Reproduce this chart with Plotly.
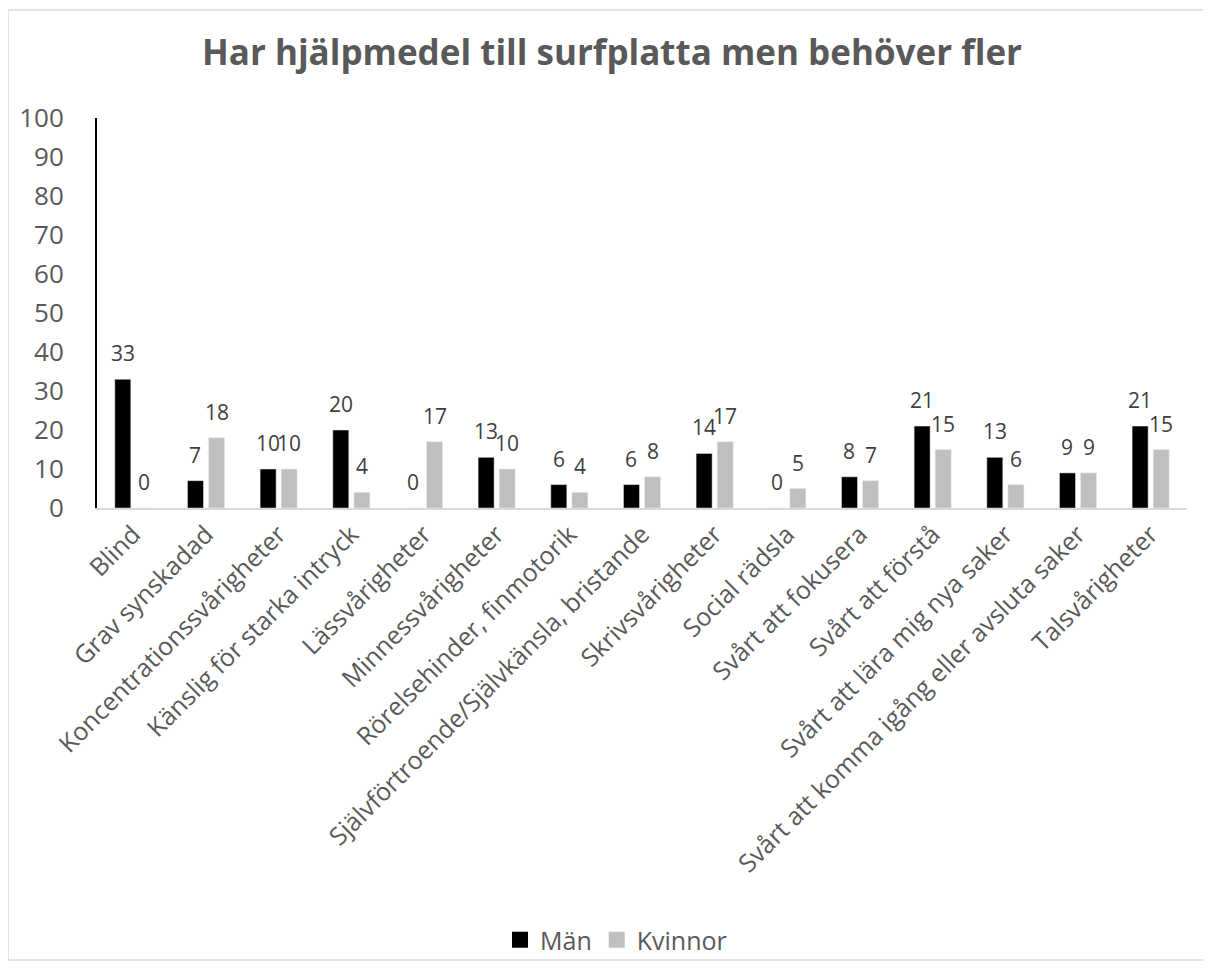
import plotly.graph_objects as go

categories = ["Blind", "Grav synskadad", "Koncentrationssvårigheter", "Känslig för starka intryck",
              "Lässvårigheter", "Minnessvårigheter", "Rörelsehinder, finmotorik",
              "Självförtroende/Självkänsla, bristande", "Skrivsvårigheter", "Social rädsla",
              "Svårt att fokusera", "Svårt att förstå", "Svårt att lära mig nya saker",
              "Svårt att komma igång eller avsluta saker", "Talsvårigheter"]
man = [33, 7, 10, 20, 0, 13, 6, 6, 14, 0, 8, 21, 13, 9, 21]
kvinnor = [0, 18, 10, 4, 17, 10, 4, 8, 17, 5, 7, 15, 6, 9, 15]
yticks = [0, 10, 20, 30, 40, 50, 60, 70, 80, 90, 100]
series = [("Män", man, "#000000"), ("Kvinnor", kvinnor, "#BFBFBF")]

OFF = 8  # page body margin
W, H = 1211 - OFF, 974 - OFF
L, T = 97 - OFF, 118 - OFF
R = W - (1187 - OFF)
B = H - (508 - OFF)
pw, ph = W - L - R, H - T - B
BARGAP, GROUPGAP = 0.42, 0.24


def px_x(x):
    return (x - OFF - L) / pw


def px_y(y):
    return 1 - (y - OFF - T) / ph


cw = pw / len(categories)
slot = cw * (1 - BARGAP) / len(series)

fig = go.Figure()
for k, (name, vals, color) in enumerate(series):
    fig.add_trace(go.Bar(x=categories, y=vals, name=name, marker_color=color, showlegend=False))
    # legend entry with larger square marker
    fig.add_trace(go.Scatter(x=[None], y=[None], mode="markers", name=name,
                             marker=dict(symbol="square", size=16, color=color)))
    shift = (k - (len(series) - 1) / 2) * slot
    for c, v in zip(categories, vals):
        fig.add_annotation(x=c, y=v, text=str(v), showarrow=False, xshift=shift, yshift=10,
                           yanchor="bottom", font=dict(size=21, color="#404040"))

fig.update_layout(
    width=W, height=H,
    margin=dict(l=L, r=R, t=T, b=B, autoexpand=False),
    paper_bgcolor="white", plot_bgcolor="white",
    font=dict(family="Open Sans", color="#595959"),
    title=dict(text="<b>Har hjälpmedel till surfplatta men behöver fler</b>",
               x=px_x(612) * pw / W + L / W, xanchor="center", xref="paper",
               y=1 - (53 - OFF) / H, yanchor="middle",
               font=dict(size=35, color="#595959", family="Open Sans")),
    barmode="group", bargap=BARGAP, bargroupgap=GROUPGAP,
    showlegend=True,
    legend=dict(orientation="h", x=px_x(616), xanchor="center", y=px_y(940), yanchor="middle",
                font=dict(size=25, color="#595959"), itemwidth=30, traceorder="normal",
                bgcolor="rgba(0,0,0,0)"),
    xaxis=dict(tickangle=-45, tickfont=dict(size=25, color="#595959"), showline=True,
               linecolor="#D9D9D9", linewidth=1.5, showgrid=False, ticks=""),
    yaxis=dict(range=[0, 100], tickvals=yticks, tickfont=dict(size=26, color="#595959"),
               showline=True, linecolor="#000000", linewidth=2, showgrid=False, ticks="",
               ticklabelstandoff=26, zeroline=False),
)
fig.update_layout(title_xref="container", title_x=(612 - OFF) / W)

fig.add_shape(type="rect", xref="paper", yref="paper",
              x0=px_x(8), x1=px_x(1205), y0=px_y(960), y1=px_y(10),
              line=dict(color="#D9D9D9", width=1.5), fillcolor="rgba(0,0,0,0)", layer="below")

fig.write_html("out.html")
